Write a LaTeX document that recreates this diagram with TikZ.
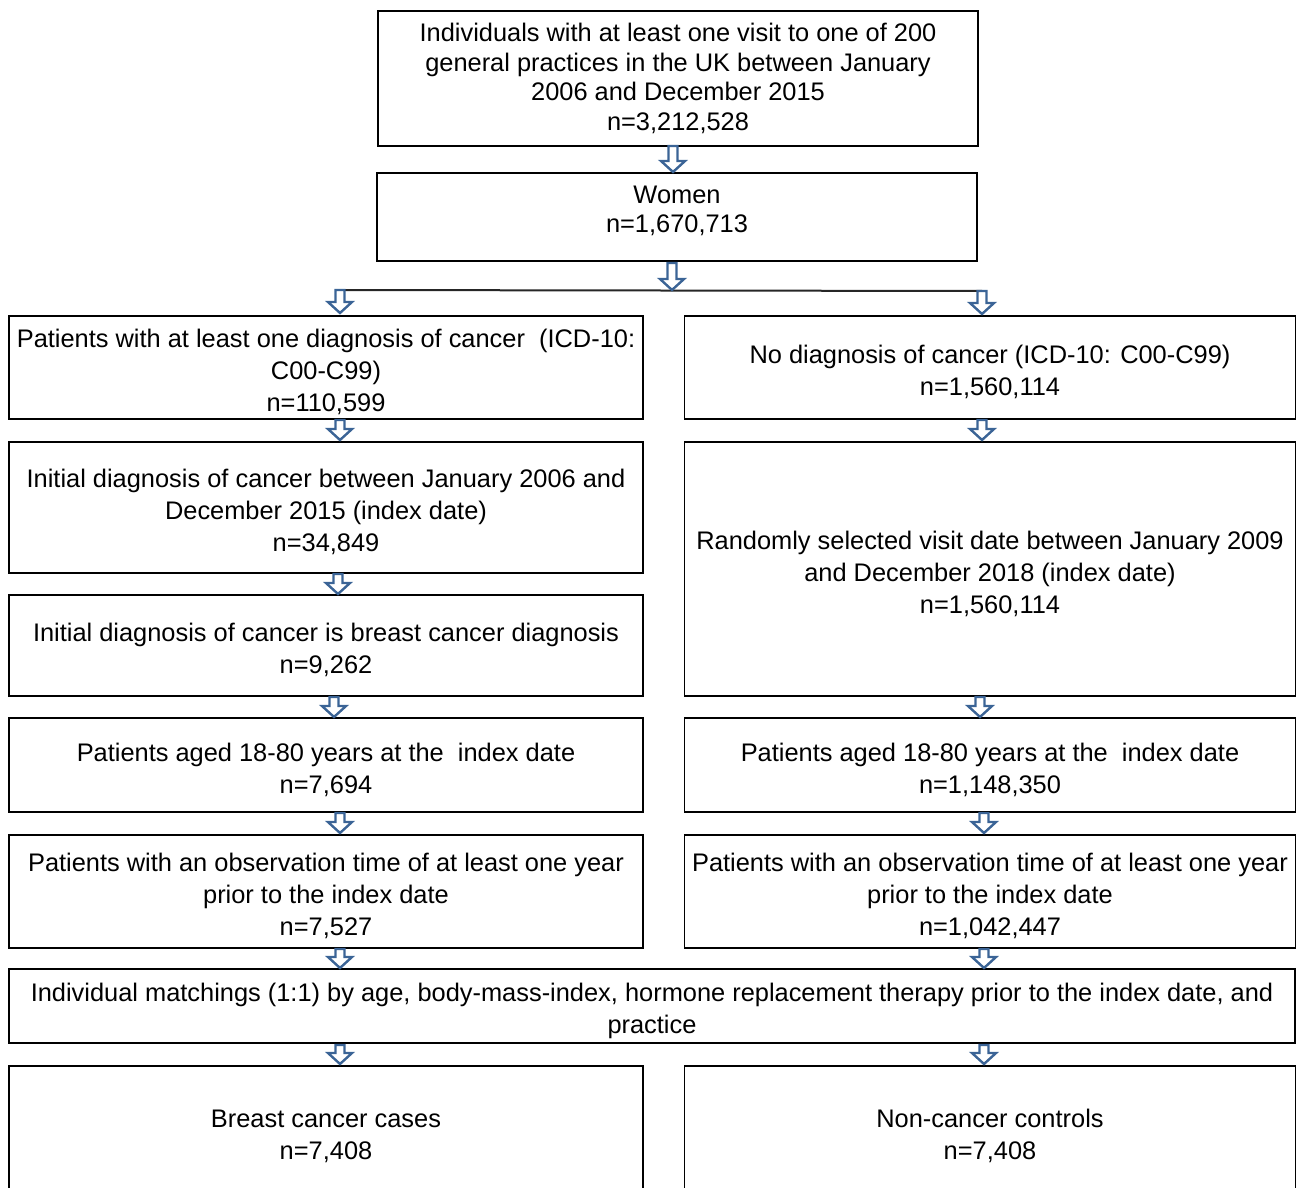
\documentclass[tikz,border=0pt]{standalone}
\usepackage{fontspec}
\setmainfont{Liberation Sans}
\definecolor{arrowblue}{RGB}{59,100,150}
\newcommand\tstrut{\rule{0pt}{28pt}}
\begin{document}
\begin{tikzpicture}[x=1pt,y=-1pt,
  box/.style={draw=black, line width=1.3pt, fill=white, align=center, inner sep=0pt,
    font=\fontsize{25.4}{32}\selectfont},
  topbox/.style={draw=black, line width=2.6pt, fill=white, align=center, inner sep=0pt,
    font=\fontsize{25.4}{29.5}\selectfont},
  barrow/.style={draw=arrowblue, line width=2.4pt, fill=white, line join=miter},
  pics/darrow/.style={code={\draw[barrow] (-4.5,0) -- (4.5,0) -- (4.5,#1-11) -- (12,#1-11) -- (0,#1) -- (-12,#1-11) -- (-4.5,#1-11) -- cycle;}}
]
\useasboundingbox (0,0) rectangle (1296,1188);
\clip (0,0) rectangle (1296,1188);

% top boxes
\node[topbox, minimum width=600, minimum height=135] (top) at (678,78.5)
  {Individuals with at least one visit to one of 200\\general practices in the UK between January\\2006 and December 2015\\n=3,212,528};
\node[topbox, minimum width=600, minimum height=88] (women) at (677,217)
  {Women\\n=1,670,713\rule[-15pt]{0pt}{0pt}};

% left column
\node[box, minimum width=634, minimum height=103] (L1) at (326,367.5)
  {\tstrut Patients with at least one diagnosis of cancer\ \ (ICD-10:\\C00-C99)\\n=110,599};
\node[box, minimum width=634, minimum height=131] (L2) at (326,507.5)
  {\tstrut Initial diagnosis of cancer between January 2006 and\\December 2015 (index date)\\n=34,849};
\node[box, minimum width=634, minimum height=101] (L3) at (326,645.5)
  {\tstrut Initial diagnosis of cancer is breast cancer diagnosis\\n=9,262};
\node[box, minimum width=634, minimum height=94] (L4) at (326,765)
  {\tstrut Patients aged 18-80 years at the\ \ index date\\n=7,694};
\node[box, minimum width=634, minimum height=113] (L5) at (326,891.5)
  {\tstrut Patients with an observation time of at least one year\\prior to the index date\\n=7,527};

% right column
\node[box, minimum width=611, minimum height=103] (R1) at (990,367.5)
  {\tstrut No diagnosis of cancer (ICD-10: C00-C99)\\n=1,560,114};
\node[box, minimum width=611, minimum height=254] (R2) at (990,569)
  {\tstrut Randomly selected visit date between January 2009\\and December 2018 (index date)\\n=1,560,114};
\node[box, minimum width=611, minimum height=94] (R3) at (990,765)
  {\tstrut Patients aged 18-80 years at the\ \ index date\\n=1,148,350};
\node[box, minimum width=611, minimum height=113] (R4) at (990,891.5)
  {\tstrut Patients with an observation time of at least one year\\prior to the index date\\n=1,042,447};

% matching
\node[box, minimum width=1286, minimum height=74] (M) at (652,1006)
  {\tstrut Individual matchings (1:1) by age, body-mass-index, hormone replacement therapy prior to the index date, and\\practice};

% bottom
\node[box, minimum width=634, minimum height=130] (B1) at (326,1131)
  {\tstrut Breast cancer cases\\n=7,408};
\node[box, minimum width=611, minimum height=130] (B2) at (990,1131)
  {\tstrut Non-cancer controls\\n=7,408};

% branch line
\coordinate (splitL) at (340,290);
\coordinate (splitR) at (983,291);
\draw[line width=2pt, black!85] (splitL) -- (splitR);

% arrows
\pic at (673,146) {darrow=26};
\pic at (672,263) {darrow=27};
\pic at (splitL) {darrow=23};
\pic at (982,291) {darrow=23};
\pic at (340,420) {darrow=20};
\pic at (338,574) {darrow=20};
\pic at (334,697) {darrow=20};
\pic at (340,813) {darrow=20};
\pic at (340,949) {darrow=19};
\pic at (340,1045) {darrow=19};
\pic at (982,420) {darrow=20};
\pic at (980,697) {darrow=20};
\pic at (984,813) {darrow=20};
\pic at (984,949) {darrow=19};
\pic at (984,1045) {darrow=19};
\end{tikzpicture}
\end{document}
